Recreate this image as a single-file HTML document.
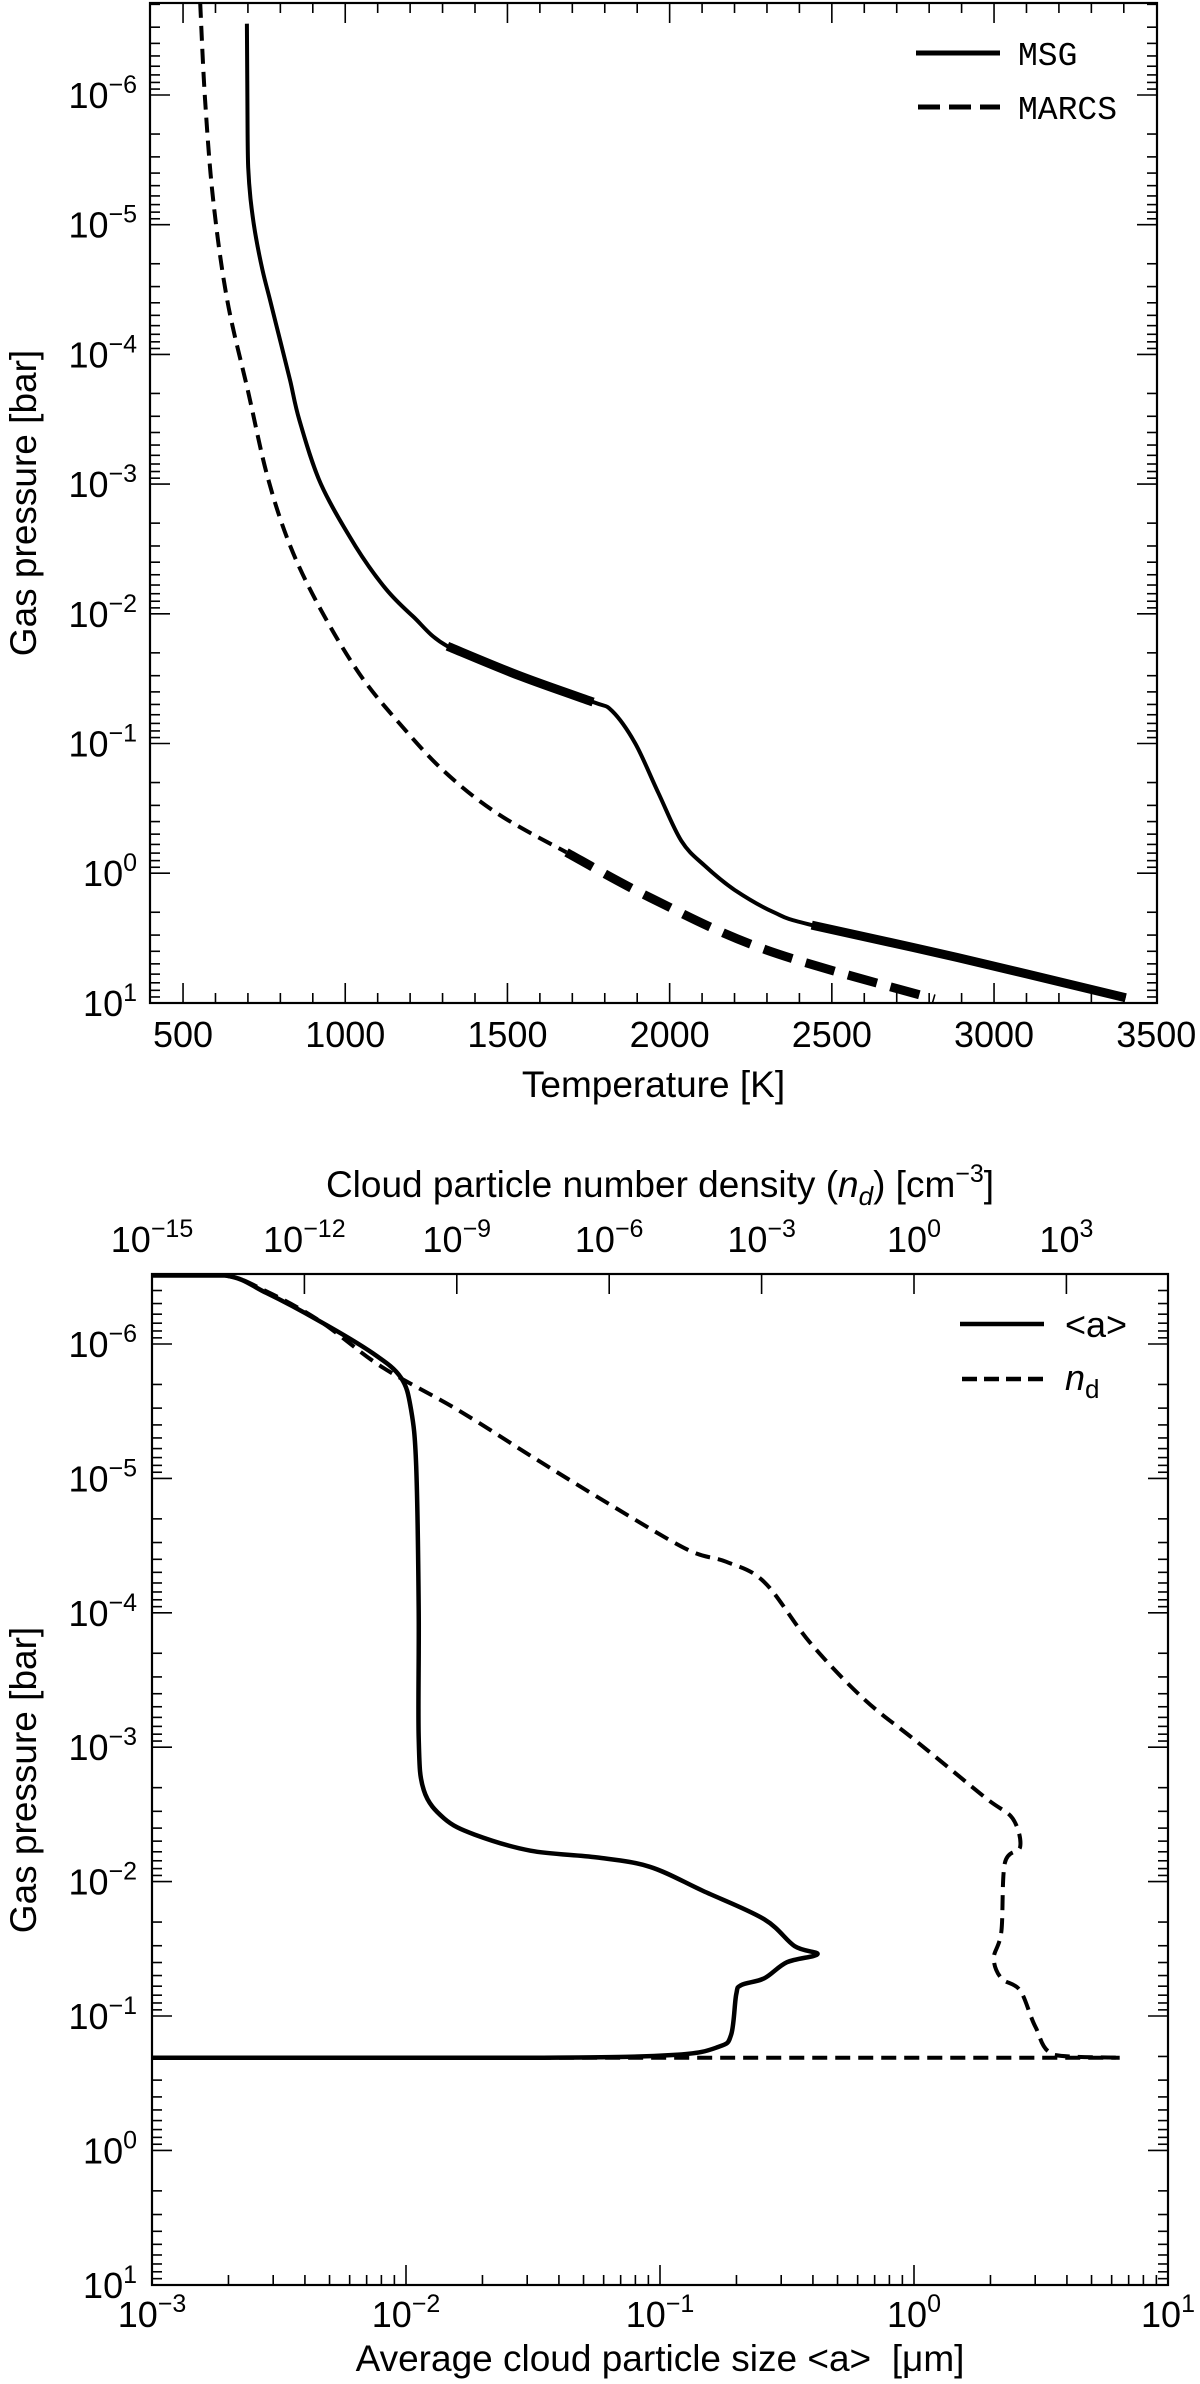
<!DOCTYPE html>
<html><head><meta charset="utf-8">
<style>
html,body{margin:0;padding:0;background:#fff;}
svg{display:block;font-family:"Liberation Sans",sans-serif;}
</style></head>
<body>
<svg id="fig" width="1200" height="2384" viewBox="0 0 1200 2384" xmlns="http://www.w3.org/2000/svg">
<rect width="1200" height="2384" fill="#fff"/>
<g id="top"></g>
<g id="bot"></g>
</svg>
<script>
// ---- Top chart data ----
const msgT = [697,699,701,708,722,745,768,800,830,859,925,1032,1126,1209,1315,1540,1764,1823,1894,1965,2036,2107,2201,2320,2438,2887,3406];
const msgLogP = [-6.55,-5.7,-5.44,-5.2,-4.94,-4.65,-4.42,-4.10,-3.80,-3.49,-3.0,-2.52,-2.19,-1.98,-1.75,-1.52,-1.32,-1.25,-1.00,-0.62,-0.25,-0.06,0.13,0.30,0.40,0.65,0.96];
const msgThick1T = [1315,1540,1764];
const msgThick1LogP = [-1.75,-1.52,-1.32];
const msgThick2T = [2438,2887,3406];
const msgThick2LogP = [0.40,0.65,0.96];
const marcsT = [553,568,593,636,701,760,831,925,1043,1162,1303,1469,1682];
const marcsLogP = [-6.71,-5.96,-5.19,-4.42,-3.71,-3.06,-2.52,-2.03,-1.54,-1.17,-0.79,-0.46,-0.16];
const marcsThickT = [1682,1941,2296,2816];
const marcsThickLogP = [-0.16,0.19,0.59,0.97];
const topXTicks = [500,1000,1500,2000,2500,3000,3500];
const pExps = [-6,-5,-4,-3,-2,-1,0,1];

// ---- Bottom chart data ----
const aLogA = [-3,-2.71,-2.55,-2.34,-2.13,-2.02,-1.98,-1.96,-1.95,-1.95,-1.93,-1.85,-1.73,-1.51,-1.25,-1.04,-0.83,-0.59,-0.47,-0.38,-0.50,-0.59,-0.68,-0.70,-0.72,-0.77,-0.95,-1.49,-3];
const aLogP = [-6.51,-6.51,-6.38,-6.17,-5.93,-5.75,-5.51,-5.09,-4.02,-3.07,-2.68,-2.47,-2.35,-2.23,-2.18,-2.11,-1.93,-1.72,-1.52,-1.46,-1.40,-1.28,-1.23,-1.16,-0.86,-0.77,-0.71,-0.69,-0.69];
const ndLogN = [-15,-13.57,-12.74,-11.69,-10.48,-8.98,-7.47,-5.96,-4.46,-3.70,-2.95,-2.05,-0.99,0.06,1.42,1.94,2.09,1.79,1.72,1.57,1.72,2.09,2.39,2.77,4.05];
const ndLogP = [-6.51,-6.51,-6.39,-6.17,-5.83,-5.51,-5.15,-4.80,-4.47,-4.38,-4.23,-3.78,-3.36,-3.04,-2.62,-2.47,-2.26,-2.14,-1.63,-1.43,-1.28,-1.19,-0.92,-0.71,-0.69];
const ndBaseLogN = [-9.7,4.05];
const ndBaseLogP = [-0.69,-0.69];
const aExps = [-3,-2,-1,0,1];
const nExps = [-15,-12,-9,-6,-3,0,3];

const NS="http://www.w3.org/2000/svg";
function mk(parent,tag,attrs){const e=document.createElementNS(NS,tag);for(const k in attrs)e.setAttribute(k,attrs[k]);parent.appendChild(e);return e;}

const T0={x0:150.6,k:0.3244,y0:95,dec:129.7};
const tx=T=>T0.x0+(T-400)*T0.k;
const ty=lp=>T0.y0+(lp+6)*T0.dec;
const B={l:152,r:1168,t:1274,b:2285};
const bx=la=>152+(la+3)*254;
const bnx=ln=>152+(ln+15)*50.8;
const by=lp=>1344+(lp+6)*134.4;

function clamp(v,a,b){const lo=Math.min(a,b),hi=Math.max(a,b);return Math.max(lo,Math.min(hi,v));}
function path(g,xs,ys,fx,fy,w,dash,name){
  const P=xs.map((v,i)=>[fx(v),fy(ys[i])]);
  let d="M"+P[0][0].toFixed(1)+","+P[0][1].toFixed(1);
  for(let i=0;i<P.length-1;i++){
    const p0=P[Math.max(0,i-1)],p1=P[i],p2=P[i+1],p3=P[Math.min(P.length-1,i+2)];
    const c1=[p1[0]+(p2[0]-p0[0])/6,clamp(p1[1]+(p2[1]-p0[1])/6,p1[1],p2[1])];
    const c2=[p2[0]-(p3[0]-p1[0])/6,clamp(p2[1]-(p3[1]-p1[1])/6,p1[1],p2[1])];
    d+="C"+c1[0].toFixed(1)+","+c1[1].toFixed(1)+" "+c2[0].toFixed(1)+","+c2[1].toFixed(1)+" "+p2[0].toFixed(1)+","+p2[1].toFixed(1);
  }
  const p=mk(g,"path",{d:d,fill:"none",stroke:"#000","stroke-width":w,"stroke-linejoin":"round"});
  if(dash)p.setAttribute("stroke-dasharray",dash);
  
  
  return p;
}
function powLabel(g,x,y,exp,anchor,name){
  const t=mk(g,"text",{x:x,y:y,"font-size":36,"text-anchor":anchor});
  
  
  const a=document.createElementNS(NS,"tspan");a.textContent="10";t.appendChild(a);
  const b=document.createElementNS(NS,"tspan");b.setAttribute("font-size","25");b.setAttribute("dy","-15");
  b.textContent=(exp<0?"\u2212":"")+Math.abs(exp);t.appendChild(b);
  return t;
}
function line(g,x1,y1,x2,y2,w){return mk(g,"line",{x1:x1,y1:y1,x2:x2,y2:y2,stroke:"#000","stroke-width":w||1.6});}

// ---------- TOP ----------
const gt=document.getElementById("top");
const L=150,R=1157,TT=3,BB=1003;
for(let T=500;T<=3400;T+=100){
  const major=T%500===0, len=major?20:10, x=tx(T);
  line(gt,x,BB,x,BB-len);line(gt,x,TT,x,TT+len);
}
for(let e=-7;e<=0;e++){for(let m=1;m<10;m++){
  const lp=e+Math.log10(m); const y=ty(lp); if(y<TT||y>BB)continue;
  const len=m===1?20:10; line(gt,L,y,L+len,y);line(gt,R,y,R-len,y);
}}
line(gt,L,ty(1),L+20,ty(1));line(gt,R,ty(1),R-20,ty(1));
mk(gt,"rect",{x:L,y:TT,width:R-L,height:BB-TT,fill:"none",stroke:"#000","stroke-width":2.2});
topXTicks.forEach(T=>{const t=mk(gt,"text",{x:tx(T),y:1047,"font-size":36,"text-anchor":"middle"});t.textContent=T;
  
  });
pExps.forEach(e=>powLabel(gt,137,ty(e)+13,e,"end","y-tick-label"));
let xl=mk(gt,"text",{x:(L+R)/2,y:1097,"font-size":37,"text-anchor":"middle"});xl.textContent="Temperature [K]";

let yl=mk(gt,"text",{x:0,y:0,"font-size":37,"text-anchor":"middle",transform:"translate(36,503) rotate(-90)"});yl.textContent="Gas pressure [bar]";

path(gt,msgT,msgLogP,tx,ty,4,null,"msg-line");
path(gt,msgThick1T,msgThick1LogP,tx,ty,9,null,"msg-thick-segment-1");
path(gt,msgThick2T,msgThick2LogP,tx,ty,9,null,"msg-thick-segment-2");
path(gt,marcsT,marcsLogP,tx,ty,4,"15,8","marcs-line");
path(gt,marcsThickT,marcsThickLogP,tx,ty,9,"30,14","marcs-thick-segment");
const lg=mk(gt,"g",{});
line(lg,916,53,1000,53,5);
line(lg,918,107,1000,107,5).setAttribute("stroke-dasharray","22,9");
let t1=mk(lg,"text",{x:1018,y:65,"font-size":33,"font-family":"Liberation Mono, monospace"});t1.textContent="MSG";

let t2=mk(lg,"text",{x:1018,y:119,"font-size":33,"font-family":"Liberation Mono, monospace"});t2.textContent="MARCS";


// ---------- BOTTOM ----------
const gb=document.getElementById("bot");
for(let e=-3;e<=0;e++){for(let m=1;m<10;m++){
  const x=bx(e+Math.log10(m)); const len=m===1?20:10; line(gb,x,B.b,x,B.b-len);
}}
for(let e=-7;e<=0;e++){for(let m=1;m<10;m++){
  const y=by(e+Math.log10(m)); if(y<B.t||y>B.b)continue;
  const len=m===1?20:10; line(gb,B.l,y,B.l+len,y);line(gb,B.r,y,B.r-len,y);
}}
line(gb,B.l,by(1),B.l+20,by(1));line(gb,B.r,by(1),B.r-20,by(1));
nExps.forEach(e=>{const x=bnx(e);line(gb,x,B.t,x,B.t+20);});
mk(gb,"rect",{x:B.l,y:B.t,width:B.r-B.l,height:B.b-B.t,fill:"none",stroke:"#000","stroke-width":2.2});
aExps.forEach(e=>powLabel(gb,bx(e),2327,e,"middle","x-tick-label"));
nExps.forEach(e=>powLabel(gb,bnx(e),1252,e,"middle","top-x-tick-label"));
[-6,-5,-4,-3,-2,-1,0,1].forEach(e=>powLabel(gb,137,by(e)+13,e,"end","y-tick-label"));
let bxl=mk(gb,"text",{x:(B.l+B.r)/2,y:2371,"font-size":37,"text-anchor":"middle"});bxl.textContent="Average cloud particle size <a>\u00a0 [\u03bcm]";

let txl=mk(gb,"text",{x:(B.l+B.r)/2,y:1197,"font-size":37,"text-anchor":"middle"});
txl.innerHTML='Cloud particle number density (<tspan font-style="italic">n</tspan><tspan font-style="italic" font-size="26" dy="8">d</tspan><tspan dy="-8">) [cm</tspan><tspan font-size="25" dy="-15">\u22123</tspan><tspan dy="15">]</tspan>';

let byl=mk(gb,"text",{x:0,y:0,"font-size":37,"text-anchor":"middle",transform:"translate(36,1780) rotate(-90)"});byl.textContent="Gas pressure [bar]";

path(gb,ndBaseLogN,ndBaseLogP,bnx,by,4,"15,8","nd-base-line");
path(gb,ndLogN,ndLogP,bnx,by,4,"15,8","nd-line");
path(gb,aLogA,aLogP,bx,by,4.5,null,"a-line");
const lg2=mk(gb,"g",{});
line(lg2,960,1324,1044,1324,4.5);
line(lg2,962,1379,1044,1379,4.5).setAttribute("stroke-dasharray","15,7");
let l1=mk(lg2,"text",{x:1065,y:1337,"font-size":36});l1.textContent="<a>";

let l2=mk(lg2,"text",{x:1065,y:1390,"font-size":36});
l2.innerHTML='<tspan font-style="italic">n</tspan><tspan font-size="26" dy="8">d</tspan>';

</script>
</body></html>
